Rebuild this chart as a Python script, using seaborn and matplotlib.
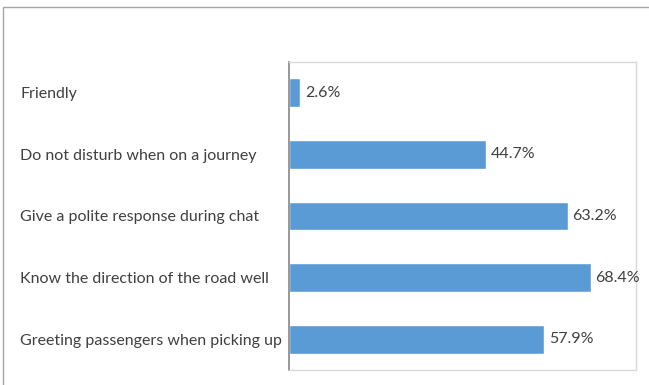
import matplotlib
matplotlib.use("Agg")
import matplotlib.pyplot as plt
import seaborn as sns
import pandas as pd
from matplotlib.patches import Rectangle

categories = [
    "Friendly",
    "Do not disturb when on a journey",
    "Give a polite response during chat",
    "Know the direction of the road well",
    "Greeting passengers when picking up",
]
values = [2.6, 44.7, 63.2, 68.4, 57.9]
value_labels = ["2.6%", "44.7%", "63.2%", "68.4%", "57.9%"]

sns.set_theme(style="white")
plt.rcParams["font.family"] = ["Lato", "DejaVu Sans"]

df = pd.DataFrame({"item": categories, "share": values})

W, H = 649, 385
fig = plt.figure(figsize=(W / 100, H / 100), dpi=100)
ax = fig.add_axes([289 / W, 1 - 370 / H, (636 - 289) / W, (370 - 62) / H])

sns.barplot(data=df, x="share", y="item", orient="h", color="#5B9BD5",
            saturation=1, width=0.47, ax=ax)

ax.set_xlim(0, 78.7)
ax.set_ylim(4.5, -0.5)
ax.set_xlabel("")
ax.set_ylabel("")
ax.set_xticks([])

text_color = "#404040"
for patch, lab in zip(ax.patches, value_labels):
    y = patch.get_y() + patch.get_height() / 2
    ax.annotate(lab, (patch.get_width(), y), xytext=(3.5, 0),
                textcoords="offset points", va="center", ha="left",
                fontsize=11.5, color=text_color)

ax.tick_params(axis="y", length=0, pad=(289 - 20) * 0.72, labelsize=11.5,
               labelcolor=text_color)
for t in ax.get_yticklabels():
    t.set_ha("left")

for side in ["top", "right", "bottom"]:
    ax.spines[side].set_color("#D9D9D9")
    ax.spines[side].set_linewidth(1)
ax.spines["left"].set_color("#868686")
ax.spines["left"].set_linewidth(1.2)

# outer chart frame
fig.patches.append(Rectangle((3 / W, -0.1), 1.2, 1 - 7 / H + 0.1,
                             transform=fig.transFigure, fill=False,
                             edgecolor="#A6A6A6", linewidth=1))

fig.savefig("out.png", dpi=100)
